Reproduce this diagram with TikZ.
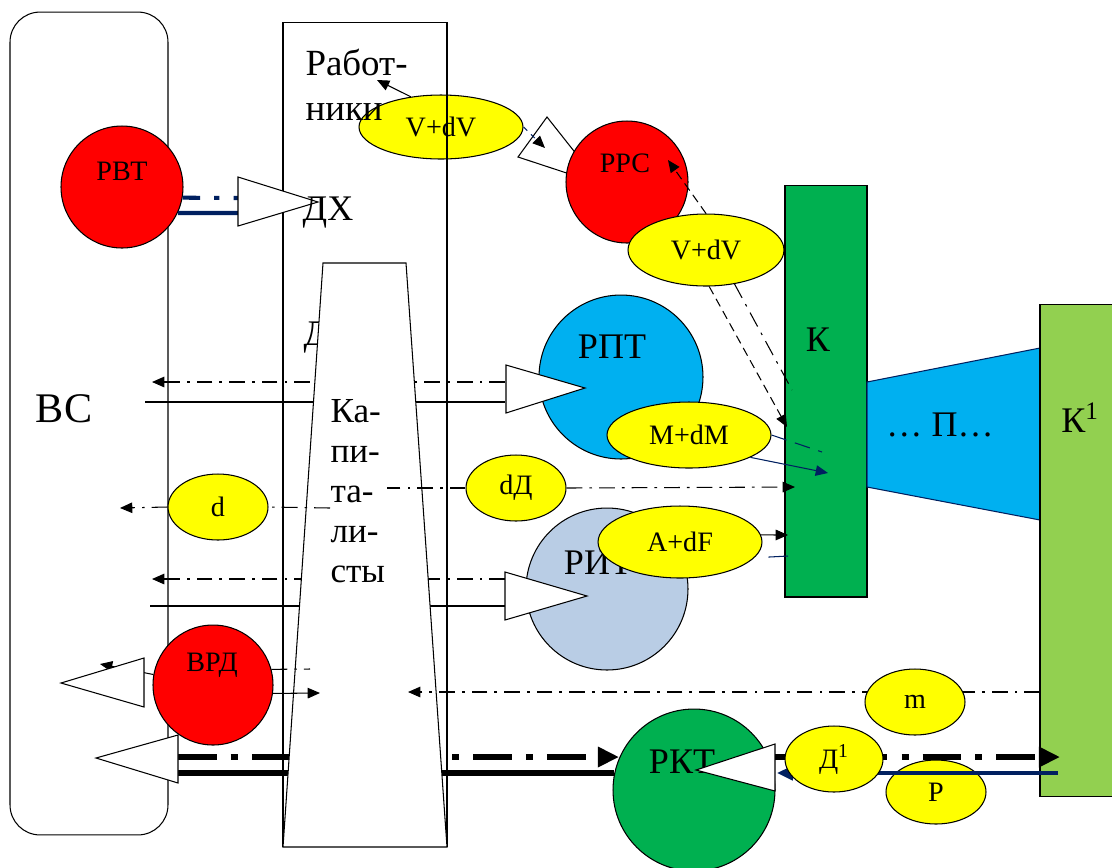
\documentclass[tikz,border=0pt]{standalone}
\usepackage{fontspec}
\setmainfont{Liberation Serif}
\usetikzlibrary{shapes.geometric,arrows.meta}
\definecolor{rred}{HTML}{FF0000}
\definecolor{ryellow}{HTML}{FFFF00}
\definecolor{rcyan}{HTML}{00B0F0}
\definecolor{rsteel}{HTML}{B9CDE5}
\definecolor{rgreen}{HTML}{00B050}
\definecolor{rlime}{HTML}{92D050}
\definecolor{rnavy}{HTML}{002060}
\tikzset{
  disk/.style={circle,draw=black,inner sep=0pt},
  oval/.style={ellipse,draw=black,fill=ryellow,inner sep=0pt,font=\fontsize{16}{18}\selectfont},
  bigtxt/.style={inner sep=0pt,font=\fontsize{20.5}{24}\selectfont},
  smalltxt/.style={inner sep=0pt,font=\fontsize{16}{18}\selectfont},
  dashdotline/.style={dash pattern=on 9pt off 4pt on 1.5pt off 4pt},
  heavyline/.style={line width=3.4pt},
  heavydashdot/.style={line width=3pt,dash pattern=on 22pt off 8pt on 4pt off 8pt},
  hollowtip/.style={draw=black,fill=white},
  bigarrow/.style={-{Triangle[length=12pt,width=11pt]}},
}
\begin{document}
\begin{tikzpicture}[x=0.02cm,y=-0.02cm,semithick,>={Triangle[length=7pt,width=6pt]}]
\useasboundingbox (0,0) rectangle (1112,867);
%society block on the left
\node[draw,rounded corners=0.6cm,minimum width=3.16cm,minimum height=16.46cm,inner sep=0pt] (vs) at (89,423.5) {};
\node[bigtxt,font=\fontsize{24}{28}\selectfont] (vslbl) at (64,409) {ВС};
%free ends of the flows
\coordinate (rptA) at (505,382);
\coordinate (rptB) at (505,402);
\coordinate (leftA) at (152,382);
\coordinate (leftB) at (145,402);
\coordinate (ritA) at (505,579);
\coordinate (ritB) at (505,606);
\coordinate (leftC) at (152,579);
\coordinate (leftD) at (150,606);
\coordinate (bl1) at (178,757);
\coordinate (bl2) at (178,773);
\coordinate (rktin) at (619,757);
\coordinate (rktw) at (614,773);
\coordinate (wrkarr) at (377,80);
\coordinate (dxA) at (238,198);
\coordinate (dxB) at (240,213);
\coordinate (rrsin) at (545,148);
\coordinate (rrstip) at (668,160);
\coordinate (vrdd) at (310,669);
\coordinate (vrdr) at (320,693);
\coordinate (vrdtip) at (100,664);
\coordinate (capd) at (330,508);
\coordinate (dout) at (120,508);
\coordinate (capdD) at (387,488);
\coordinate (kin1) at (787,427);
\coordinate (kin2) at (792,390);
\coordinate (kin3) at (822,452);
\coordinate (kin4) at (828,473);
\coordinate (kin5) at (795,487);
\coordinate (kin6) at (788,535);
\coordinate (kin7) at (788,556);
\coordinate (k1m) at (1040,692);
\coordinate (capm) at (408,692);
\coordinate (rktA) at (775,757);
\coordinate (k1inA) at (1060,757);
\coordinate (k1B) at (1058,773);
\coordinate (rktB) at (777,773);
%rows running under the capitalists
\draw[dashdotline,->] (rptA) -- (leftA);
\draw (leftB) -- (rptB);
\draw[dashdotline,->] (ritA) -- (leftC);
\draw (leftD) -- (ritB);
\draw[heavydashdot,bigarrow] (bl1) -- (rktin);
\draw[heavyline] (bl2) -- (rktw);
\node[bigtxt] (dlbl) at (316,338) {Д};
%workers
\node[oval,minimum width=3.28cm,minimum height=1.28cm] (vdv1) at (441,127) {V+dV};
\node[draw,minimum width=3.28cm,minimum height=16.5cm,inner sep=0pt] (wrk) at (365,434.5) {};
\node[align=left,anchor=north west,inner sep=0pt,font=\fontsize{21}{25.5}\selectfont] (wrklbl) at (305,49) {Работ-\\ники};
\draw[->] (vdv1.135) -- (wrkarr);
%capitalists
\draw[fill=white] (323,263) -- (406,263) -- (447,847) -- (283,847) -- cycle;
\node[align=left,anchor=north west,inner sep=0pt,font=\fontsize{20}{22.8}\selectfont] (caplbl) at (330,399) {Ка-\\пи-\\та-\\ли-\\сты};
\node[oval,minimum width=2cm,minimum height=1.32cm] (dsm) at (218,507) {d};
\draw[dashdotline] (capd) -- (dsm.east);
\draw[dashdotline,->] (dsm.west) -- (dout);
%hired labour
\node[disk,fill=rred,minimum size=2.44cm] (rvt) at (122,187) {};
\node[smalltxt] (rvtlbl) at (122,171) {РВТ};
\draw[rnavy,line width=2.3pt] (rvt.-25) -- (dxB);
\draw[rnavy,line width=2.3pt,dash pattern=on 10pt off 8pt on 3pt off 8pt] (rvt.-10) -- (dxA);
\draw[hollowtip] (238,177) -- (238,226) -- (318,202) -- cycle;
\node[bigtxt] (dxlbl) at (328,213) {ДХ};
\draw[hollowtip] (547,117) -- (518,157) -- (600,184) -- cycle;
\node[disk,fill=rred,minimum size=2.44cm] (rrs) at (627,182) {};
\node[smalltxt] (rrslbl) at (625,163) {РРС};
\draw[rnavy,dashed,-{Triangle[length=7pt,width=6pt,color=black]}] (vdv1.east) -- (rrsin);
%means of production and objects of labour
\node[disk,fill=rcyan,minimum size=3.28cm] (rpt) at (621,377) {};
\draw[hollowtip] (506,365) -- (506,413) -- (585,388) -- cycle;
\node[bigtxt] (rptlbl) at (612,347) {РПТ};
\node[disk,fill=rsteel,minimum size=3.24cm] (rit) at (607,589) {};
\draw[hollowtip] (505,572) -- (505,620) -- (587,596) -- cycle;
\node[bigtxt] (ritlbl) at (598,563) {РИТ};
%loan capital
\node[disk,fill=rred,minimum size=2.4cm] (vrd) at (213,685) {};
\node[smalltxt] (vrdlbl) at (212,665) {ВРД};
\draw[->] (vrd.170) -- (vrdtip);
\draw[hollowtip] (144,658) -- (144,707) -- (61,683) -- cycle;
\draw[hollowtip] (178,735) -- (178,783) -- (96,758) -- cycle;
\draw[dashdotline] (vrd.15) -- (vrdd);
\draw[->] (vrd.-8) -- (vrdr);
%commodity market
\node[disk,fill=rgreen,minimum size=3.24cm] (rkt) at (694,790) {};
\node[bigtxt] (rktlbl) at (682,762) {РКТ};
\draw[hollowtip] (775,744) -- (775,791) -- (696,770) -- cycle;
%capital K, production, K1
\node[draw,fill=rgreen,minimum width=1.64cm,minimum height=8.24cm,inner sep=0pt] (k) at (826,391) {};
\node[bigtxt] (klbl) at (818,340) {К};
\draw[draw=rnavy,fill=rcyan] (867,382) -- (1040,348) -- (1040,520) -- (867,487) -- cycle;
\node[bigtxt] (plbl) at (940,425) {… П…};
\node[draw,fill=rlime,minimum width=1.52cm,minimum height=9.86cm,inner sep=0pt] (k1) at (1078,550.5) {};
\node[bigtxt] (k1lbl) at (1080,418) {К\textsuperscript{1}};
%advances into K
\node[oval,minimum width=3.12cm,minimum height=1.44cm] (vdv2) at (706,250) {V+dV};
\draw[dash pattern=on 5pt off 3pt,->] (vdv2.north) -- (rrstip);
\draw[dash pattern=on 5pt off 3pt,->] (vdv2.-85) -- (kin1);
\draw[dashdotline] (vdv2.-50) -- (kin2);
\node[oval,minimum width=3.28cm,minimum height=1.32cm] (mdm) at (689,435) {M+dM};
\draw[rnavy,dash pattern=on 9pt off 5pt] (mdm.east) -- (kin3);
\draw[rnavy,->] (mdm.-20) -- (kin4);
\node[oval,minimum width=2cm,minimum height=1.32cm] (dd) at (516,488) {dД};
\draw[dashdotline,->] (dd.east) -- (kin5);
\draw[dashdotline] (dd.west) -- (capdD);
\node[oval,minimum width=3.28cm,minimum height=1.44cm] (adf) at (680,542) {A+dF};
\draw[->] (adf.5) -- (kin6);
\draw[rnavy,shorten <=8pt] (adf.-12) -- (kin7);
%returns from K1
\draw[dashdotline,->] (k1m) -- (capm);
\node[oval,minimum width=2cm,minimum height=1.32cm] (msm) at (915,702) {m};
\draw[heavydashdot,bigarrow] (rktA) -- (k1inA);
\node[oval,minimum width=2cm,minimum height=1.28cm] (psm) at (936,792) {Р};
\draw[rnavy,line width=2.3pt,-{Triangle[length=9pt,width=8pt]}] (k1B) -- (rktB);
\node[oval,minimum width=1.96cm,minimum height=1.32cm] (d1) at (834,759) {Д\textsuperscript{1}};
\end{tikzpicture}
\end{document}
